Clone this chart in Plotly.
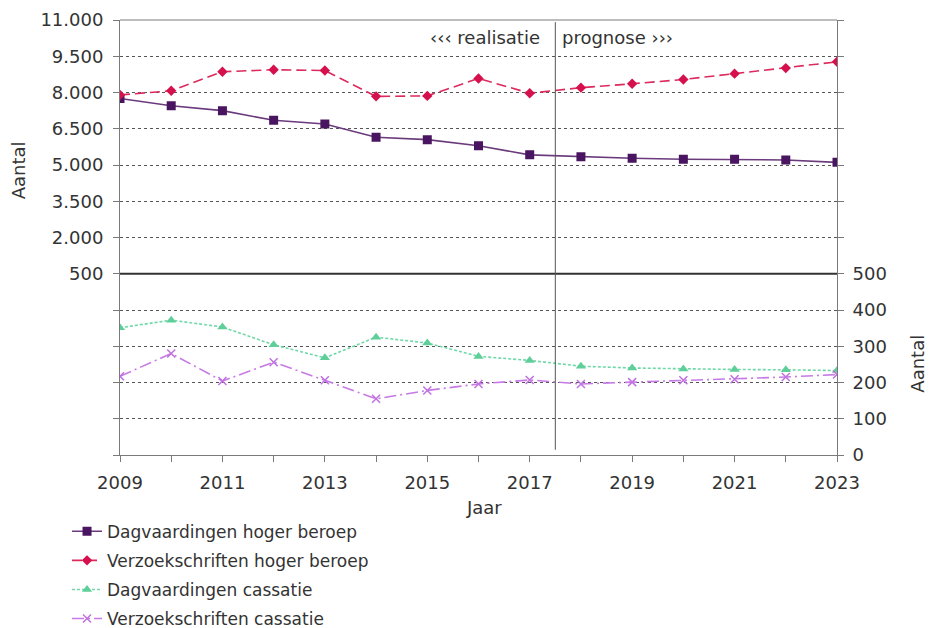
import plotly.graph_objects as go

# Years on the shared x axis
years = list(range(2009, 2024))

# Upper panel (left axis): hoger beroep
dagv_hoger = [7750, 7450, 7250, 6850, 6700, 6150, 6050, 5800, 5420, 5340, 5280, 5240, 5240, 5210, 5110]
verz_hoger = [7900, 8070, 8860, 8940, 8910, 7840, 7860, 8580, 7970, 8200, 8360, 8540, 8780, 9010, 9270]

# Lower panel (right axis): cassatie
dagv_cass = [351, 372, 353, 304, 268, 325, 309, 272, 261, 245, 240, 237, 236, 235, 233]
verz_cass = [217, 280, 204, 256, 206, 155, 178, 196, 207, 196, 201, 206, 209, 215, 222]

# Axis tick values and labels
top_ticks = [500, 2000, 3500, 5000, 6500, 8000, 9500, 11000]
top_labels = ["500", "2.000", "3.500", "5.000", "6.500", "8.000", "9.500", "11.000"]
bottom_ticks = [0, 100, 200, 300, 400, 500]

split_year = 2017.5

FONT = "DejaVu Sans, Verdana, sans-serif"
TXT = "#333333"
AXIS = "#7a7a7a"

fig = go.Figure()

fig.add_trace(go.Scatter(
    x=years, y=dagv_hoger, name="Dagvaardingen hoger beroep", yaxis="y",
    mode="lines+markers", legendgroup="a",
    line=dict(color="#6a3a7c", width=1.6),
    marker=dict(symbol="square", size=9, color="#4a1560"),
))
fig.add_trace(go.Scatter(
    x=years, y=verz_hoger, name="Verzoekschriften hoger beroep", yaxis="y",
    mode="lines+markers", legendgroup="b",
    line=dict(color="#dc2a5c", width=1.6, dash="10px,5px"),
    marker=dict(symbol="diamond", size=8, color="#d5104c"),
))
fig.add_trace(go.Scatter(
    x=years, y=dagv_cass, name="Dagvaardingen cassatie", yaxis="y2",
    mode="lines+markers", legendgroup="c",
    line=dict(color="#6fd8a8", width=1.6, dash="3px,2px"),
    marker=dict(symbol="triangle-up", size=9, color="#5fcf9a"),
))
fig.add_trace(go.Scatter(
    x=years, y=verz_cass, name="Verzoekschriften cassatie", yaxis="y2",
    mode="lines+markers", legendgroup="d",
    line=dict(color="#c77ae6", width=1.6, dash="12px,4px,2px,4px"),
    marker=dict(symbol="x-thin", size=8, color="#c070e0",
                line=dict(color="#c070e0", width=1.5)),
))

split = 5 / 12

fig.update_layout(
    width=931, height=628,
    margin=dict(l=120, r=94, t=20, b=173, autoexpand=False),
    paper_bgcolor="white", plot_bgcolor="white",
    font=dict(family=FONT, size=18, color=TXT),
    showlegend=True,
    legend=dict(
        xref="container", yref="container", x=0.072, y=0.182,
        xanchor="left", yanchor="top",
        font=dict(family=FONT, size=17, color=TXT),
        traceorder="grouped", tracegroupgap=4,
        bgcolor="rgba(0,0,0,0)",
    ),
    xaxis=dict(
        range=[2009, 2023], dtick=2, tick0=2009,
        showgrid=False, zeroline=False,
        showline=True, linecolor=AXIS, linewidth=1,
        ticks="outside", ticklen=6, tickcolor=AXIS,
        ticklabelstandoff=5,
        minor=dict(dtick=1, tick0=2009, ticks="outside", ticklen=6, tickcolor=AXIS),
        anchor="y2",
    ),
    yaxis=dict(
        domain=[split, 1], range=[500, 11000],
        tickvals=top_ticks, ticktext=top_labels,
        showgrid=True, gridcolor="#555555", griddash="dot", gridwidth=1,
        zeroline=False,
        showline=True, linecolor=AXIS, linewidth=1, mirror="ticks",
        ticks="outside", ticklen=6, tickcolor=AXIS,
        ticklabelstandoff=6,
        anchor="x",
    ),
    yaxis2=dict(
        domain=[0, split], range=[0, 500],
        tickvals=bottom_ticks, side="right",
        showgrid=True, gridcolor="#555555", griddash="dot", gridwidth=1,
        zeroline=False,
        showline=True, linecolor=AXIS, linewidth=1, mirror="ticks",
        ticks="outside", ticklen=6, tickcolor=AXIS,
        ticklabelstandoff=5,
        anchor="x",
    ),
    shapes=[
        # top border of the plot area
        dict(type="line", xref="paper", yref="paper", x0=0, x1=1, y0=1, y1=1,
             line=dict(color=AXIS, width=1)),
        # boundary between the two panels
        dict(type="line", xref="paper", yref="paper", x0=0, x1=1, y0=split, y1=split,
             line=dict(color="#333333", width=2)),
        # realisatie / prognose divider
        dict(type="line", xref="x", yref="paper", x0=split_year, x1=split_year,
             y0=0.012, y1=0.995, line=dict(color="#555555", width=1)),
    ],
    annotations=[
        dict(text="‹‹‹ realisatie", xref="x", yref="paper", x=split_year, y=0.959,
             xanchor="right", yanchor="middle", xshift=-13, showarrow=False,
             font=dict(family=FONT, size=18, color=TXT)),
        dict(text="prognose ›››", xref="x", yref="paper", x=split_year, y=0.959,
             xanchor="left", yanchor="middle", xshift=5, showarrow=False,
             font=dict(family=FONT, size=18, color=TXT)),
        dict(text="Aantal", xref="paper", yref="paper", x=-0.142, y=0.655,
             xanchor="center", yanchor="middle", textangle=-90, showarrow=False,
             font=dict(family=FONT, size=18, color=TXT)),
        dict(text="Aantal", xref="paper", yref="paper", x=1.113, y=0.21,
             xanchor="center", yanchor="middle", textangle=-90, showarrow=False,
             font=dict(family=FONT, size=18, color=TXT)),
        dict(text="Jaar", xref="paper", yref="paper", x=0.508, y=-0.12,
             xanchor="center", yanchor="middle", showarrow=False,
             font=dict(family=FONT, size=18, color=TXT)),
    ],
)

fig.write_html("out.html")
